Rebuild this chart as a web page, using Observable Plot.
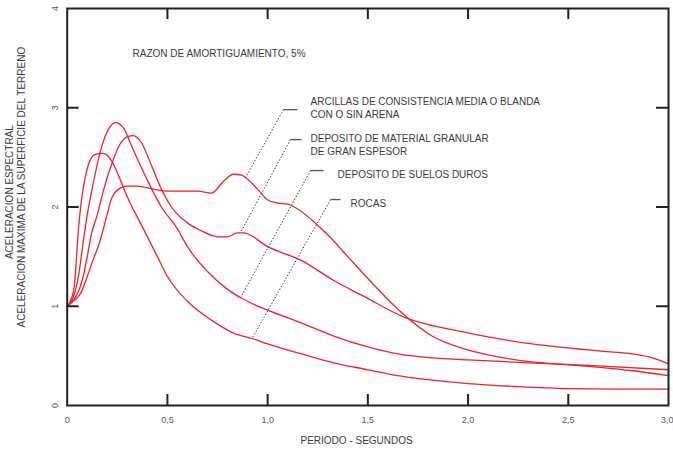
<!DOCTYPE html>
<html>
<head>
<meta charset="utf-8">
<script src="https://cdn.jsdelivr.net/npm/d3@7"></script>
<script src="https://cdn.jsdelivr.net/npm/@observablehq/plot@0.6"></script>
<style>
  body { margin: 0; background: #fff; }
  #chart svg { font-family: "Liberation Sans", Arial, sans-serif; }
</style>
</head>
<body>
<div id="chart"></div>
<script>
// ---- Data ----
const seriesNames = ["Arcillas", "Granular", "Suelos duros", "Rocas"];

const arcillasT = [0, 0.03, 0.067, 0.1, 0.117, 0.167, 0.2, 0.22, 0.25, 0.3, 0.35, 0.43, 0.5, 0.6, 0.65, 0.72, 0.78, 0.83, 0.87, 0.9, 0.95, 1.0, 1.05, 1.1, 1.15, 1.22, 1.3, 1.4, 1.5, 1.65, 1.82, 1.98, 2.15, 2.32, 2.57, 2.82, 3.0];
const arcillasV = [1.0, 1.05, 1.13, 1.3, 1.4, 1.68, 1.93, 2.08, 2.17, 2.21, 2.21, 2.18, 2.16, 2.16, 2.16, 2.14, 2.26, 2.33, 2.32, 2.28, 2.18, 2.07, 2.04, 2.03, 1.98, 1.87, 1.72, 1.5, 1.28, 0.97, 0.7, 0.57, 0.49, 0.44, 0.4, 0.35, 0.3];

const granularT = [0, 0.02, 0.05, 0.08, 0.1, 0.12, 0.15, 0.18, 0.22, 0.26, 0.3, 0.33, 0.37, 0.42, 0.47, 0.52, 0.6, 0.67, 0.75, 0.8, 0.85, 0.88, 1.0, 1.17, 1.33, 1.48, 1.68, 1.98, 2.32, 2.65, 2.82, 2.92, 3.0];
const granularV = [1.0, 1.04, 1.12, 1.3, 1.5, 1.72, 1.92, 2.16, 2.42, 2.62, 2.71, 2.72, 2.65, 2.42, 2.18, 2.0, 1.84, 1.76, 1.7, 1.7, 1.74, 1.74, 1.6, 1.46, 1.26, 1.1, 0.89, 0.74, 0.62, 0.55, 0.52, 0.48, 0.42];

const suelosT = [0, 0.02, 0.04, 0.06, 0.08, 0.1, 0.13, 0.167, 0.2, 0.24, 0.28, 0.32, 0.4, 0.47, 0.55, 0.6, 0.7, 0.8, 0.87, 1.0, 1.17, 1.33, 1.5, 1.65, 1.82, 2.0, 2.3, 2.65, 3.0];
const suelosV = [1.0, 1.05, 1.15, 1.35, 1.65, 1.92, 2.24, 2.57, 2.76, 2.85, 2.8, 2.62, 2.27, 2.0, 1.78, 1.6, 1.35, 1.17, 1.08, 0.96, 0.83, 0.7, 0.59, 0.52, 0.48, 0.46, 0.43, 0.4, 0.36];

const rocasT = [0, 0.02, 0.035, 0.045, 0.055, 0.07, 0.09, 0.11, 0.14, 0.18, 0.22, 0.26, 0.3, 0.37, 0.45, 0.5, 0.6, 0.67, 0.75, 0.83, 0.93, 1.0, 1.17, 1.33, 1.5, 1.65, 1.8, 2.0, 2.25, 2.5, 2.75, 3.0];
const rocasV = [1.0, 1.07, 1.2, 1.45, 1.75, 2.05, 2.3, 2.45, 2.53, 2.54, 2.47, 2.3, 2.1, 1.82, 1.5, 1.3, 1.05, 0.93, 0.82, 0.73, 0.67, 0.62, 0.52, 0.43, 0.36, 0.3, 0.26, 0.22, 0.19, 0.17, 0.165, 0.165];

const xTickValues = [0, 0.5, 1, 1.5, 2, 2.5, 3];
const xTickLabels = ["0", "0,5", "1,0", "1,5", "2,0", "2,5", "3,0"];
const yTickValues = [0, 1, 2, 3, 4];
const yTickLabels = ["0", "1", "2", "3", "4"];
const innerTicksX = [0.5, 1, 1.5, 2, 2.5];
const innerTicksY = [1, 2, 3];

const xTitle = "PERIODO - SEGUNDOS";
const yTitleLines = ["ACELERACION ESPECTRAL", "ACELERACION MAXIMA DE LA SUPERFICIE DEL TERRENO"];
const noteText = "RAZON DE AMORTIGUAMIENTO, 5%";

const labelTexts = [
  "ARCILLAS DE CONSISTENCIA MEDIA O BLANDA\nCON O SIN ARENA",
  "DEPOSITO DE MATERIAL GRANULAR\nDE GRAN ESPESOR",
  "DEPOSITO DE SUELOS DUROS",
  "ROCAS"
];
const labelX = [1.214, 1.214, 1.349, 1.414];
const labelY = [3.003, 2.635, 2.338, 2.045];

// leader lines: start (near label), end (on curve), short bar end
const leaderX1 = [1.079, 1.114, 1.214, 1.314];
const leaderY1 = [2.981, 2.679, 2.367, 2.075];
const leaderX2 = [0.890, 0.865, 0.865, 0.925];
const leaderY2 = [2.296, 1.742, 1.088, 0.685];
const leaderBarX = [1.149, 1.169, 1.279, 1.364];

// ---- Build ----
const W = 673, H = 455;
const mL = 66.7, mR = 5, mT = 8, mB = 50;
const pxX = (W - mL - mR) / 3;   // px per second
const pxY = (H - mT - mB) / 4;   // px per unit

const curves = [
  [arcillasT, arcillasV], [granularT, granularV], [suelosT, suelosV], [rocasT, rocasV]
].map(([t, v], k) => t.map((x, i) => ({s: seriesNames[k], t: x, v: v[i]})));

const leaders = leaderX1.map((x, i) => ({x1: x, y1: leaderY1[i], x2: leaderX2[i], y2: leaderY2[i], xb: leaderBarX[i]}));
const labels = labelTexts.map((t, i) => ({t, x: labelX[i], y: labelY[i]}));
const xTicks = xTickValues.map((v, i) => ({v, l: xTickLabels[i]}));

const red = "#e8252b";
const txt = "#3a3a3a";
const tickLenY = 11 / pxY, tickLenX = 12 / pxX;

const marks = [
  ...curves.map(c => Plot.line(c, {x: "t", y: "v", stroke: red, strokeWidth: 1.3, curve: "monotone-x"})),
  Plot.link(leaders, {x1: "x1", y1: "y1", x2: "x2", y2: "y2", stroke: "#333", strokeWidth: 1, strokeDasharray: "1.4,1.8"}),
  Plot.link(leaders, {x1: "x1", y1: "y1", x2: "xb", y2: "y1", stroke: "#555", strokeWidth: 1.3}),
  Plot.text(labels, {x: "x", y: "y", text: "t", textAnchor: "start", fontSize: 10, fill: txt, lineHeight: 1.3}),
  Plot.text([noteText], {x: 0.326, y: 3.547, text: d => d, textAnchor: "start", fontSize: 10, fill: txt}),
  // inner ticks
  Plot.ruleX(innerTicksX, {x: d => d, y1: 0, y2: tickLenY, stroke: "#222", strokeWidth: 2}),
  Plot.ruleX(innerTicksX, {x: d => d, y1: 4, y2: 4 - tickLenY, stroke: "#222", strokeWidth: 2}),
  Plot.ruleY(innerTicksY, {y: d => d, x1: 0, x2: tickLenX, stroke: "#222", strokeWidth: 2}),
  Plot.ruleY(innerTicksY, {y: d => d, x1: 3, x2: 3 - tickLenX, stroke: "#222", strokeWidth: 2}),
  Plot.frame({stroke: "#222", strokeWidth: 2}),
  // tick labels
  Plot.text(xTicks.slice(0, -1), {x: "v", y: 0, dy: 15, text: "l", fontSize: 9, fill: "#555"}),
  Plot.text(xTicks.slice(-1), {x: "v", y: 0, dy: 15, dx: 5, textAnchor: "end", text: "l", fontSize: 9, fill: "#555"}),
  Plot.text(yTickValues, {x: 0, y: d => d, dx: -12, rotate: -90, text: (d, i) => yTickLabels[i], fontSize: 9, fill: "#555"}),
  // titles
  Plot.text([xTitle], {x: 1.444, y: 0, dy: 35, text: d => d, fontSize: 10, fill: txt}),
  Plot.text([yTitleLines[0]], {x: 0, y: 2.15, dx: -57, rotate: -90, text: d => d, fontSize: 10, fill: txt}),
  Plot.text([yTitleLines[1]], {x: 0, y: 2.2, dx: -45, rotate: -90, text: d => d, fontSize: 10, fill: txt})
];

const chart = Plot.plot({
  width: W, height: H,
  marginLeft: mL, marginRight: mR, marginTop: mT, marginBottom: mB,
  x: {domain: [0, 3], axis: null},
  y: {domain: [0, 4], axis: null},
  style: {background: "#fff", overflow: "visible"},
  marks
});
document.getElementById("chart").appendChild(chart);
</script>
</body>
</html>
